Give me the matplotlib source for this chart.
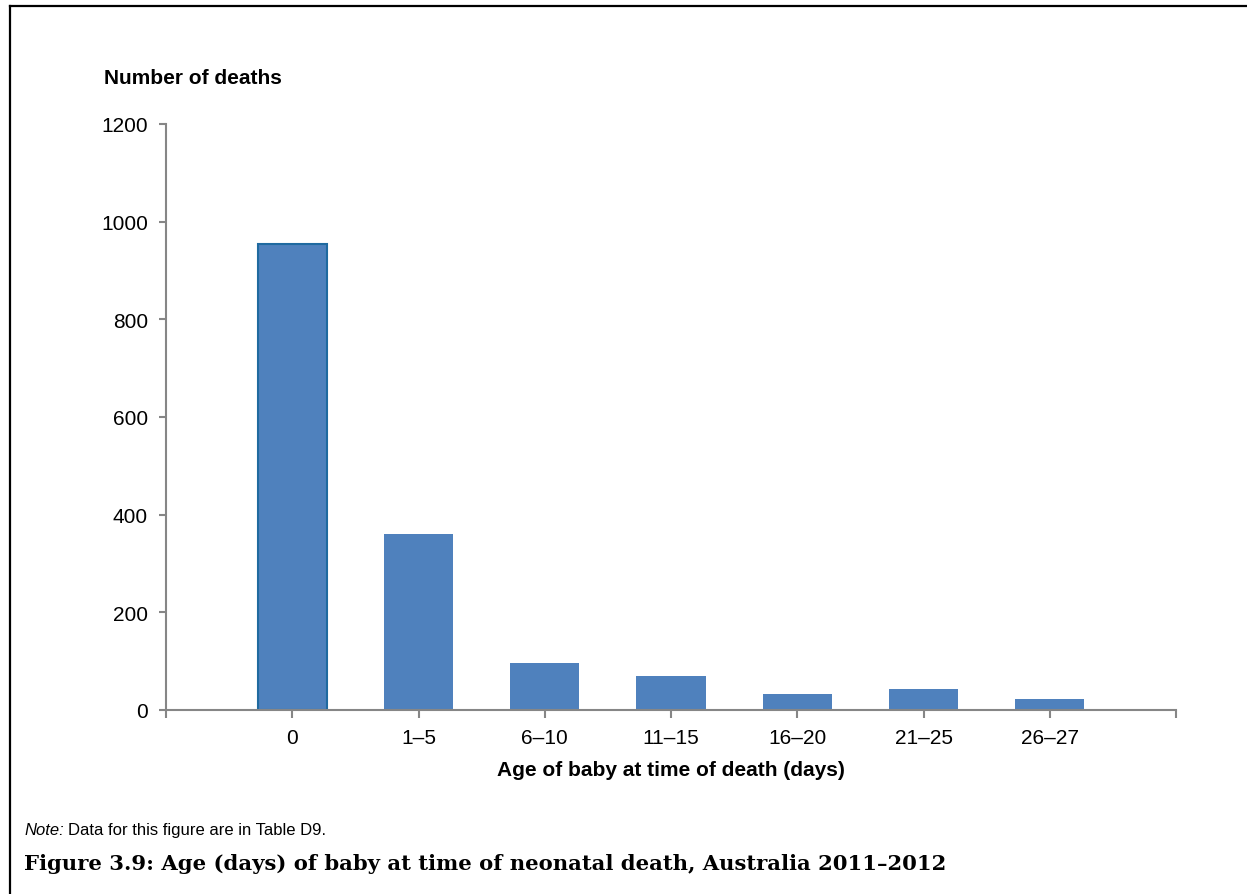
import matplotlib.pyplot as plt
from matplotlib.lines import Line2D

# data
age_groups = ["0", "1–5", "6–10", "11–15", "16–20", "21–25", "26–27"]
deaths = [955, 360, 96, 70, 33, 43, 22]
y_ticks = [0, 200, 400, 600, 800, 1000, 1200]

W, H = 1247, 895
fig = plt.figure(figsize=(W / 100, H / 100), dpi=100)
plt.rcParams['font.family'] = ['Liberation Sans', 'DejaVu Sans']

ax = fig.add_axes([166 / W, 1 - 711 / H, (1176 - 166) / W, (711 - 125) / H])

bar_color = "#4F81BD"
bars = ax.bar(range(len(age_groups)), deaths, width=0.55, color=bar_color, linewidth=0)
# the first bar has a darker outline in the original
bars[0].set_edgecolor("#1F6AA0")
bars[0].set_linewidth(1.5)

axis_grey = "#868686"
ax.set_xlim(-1, len(age_groups))
ax.set_ylim(0, 1200)
ax.set_yticks(y_ticks)
ax.set_yticklabels([str(v) for v in y_ticks], fontsize=15)
ax.set_xticks(range(-1, len(age_groups) + 1))
ax.set_xticklabels([""] + age_groups + [""], fontsize=15)

for side in ["top", "right"]:
    ax.spines[side].set_visible(False)
for side in ["left", "bottom"]:
    ax.spines[side].set_color(axis_grey)
    ax.spines[side].set_linewidth(1.5)
ax.tick_params(axis="y", direction="out", length=5, width=1.5, color=axis_grey, pad=8)
ax.tick_params(axis="x", direction="out", length=6, width=1.5, color=axis_grey, pad=7)

# texts
fig.text(104 / W, 1 - 79 / H, "Number of deaths", fontsize=15, fontweight="bold", va="center")
fig.text(671 / W, 1 - 771 / H, "Age of baby at time of death (days)", fontsize=15,
         fontweight="bold", ha="center", va="center")
note = fig.text(24 / W, 1 - 831 / H, "Note:", fontsize=12, fontstyle="italic", va="center")
fig.canvas.draw()
note_end = note.get_window_extent().x1
fig.text((note_end + 4) / W, 1 - 831 / H, "Data for this figure are in Table D9.",
         fontsize=12, va="center")
fig.text(24 / W, 1 - 864 / H,
         "Figure 3.9: Age (days) of baby at time of neonatal death, Australia 2011\u20132012",
         fontsize=15.2, fontweight="bold", family=["DejaVu Serif"], va="center")

# frame around the figure (top and left edges visible)
fig.add_artist(Line2D([9.5 / W, 9.5 / W], [0, 1 - 7 / H], transform=fig.transFigure,
                      color="black", linewidth=1.6))
fig.add_artist(Line2D([9.5 / W, 1], [1 - 7 / H, 1 - 7 / H], transform=fig.transFigure,
                      color="black", linewidth=1.6))

fig.savefig("out.png", dpi=100)
